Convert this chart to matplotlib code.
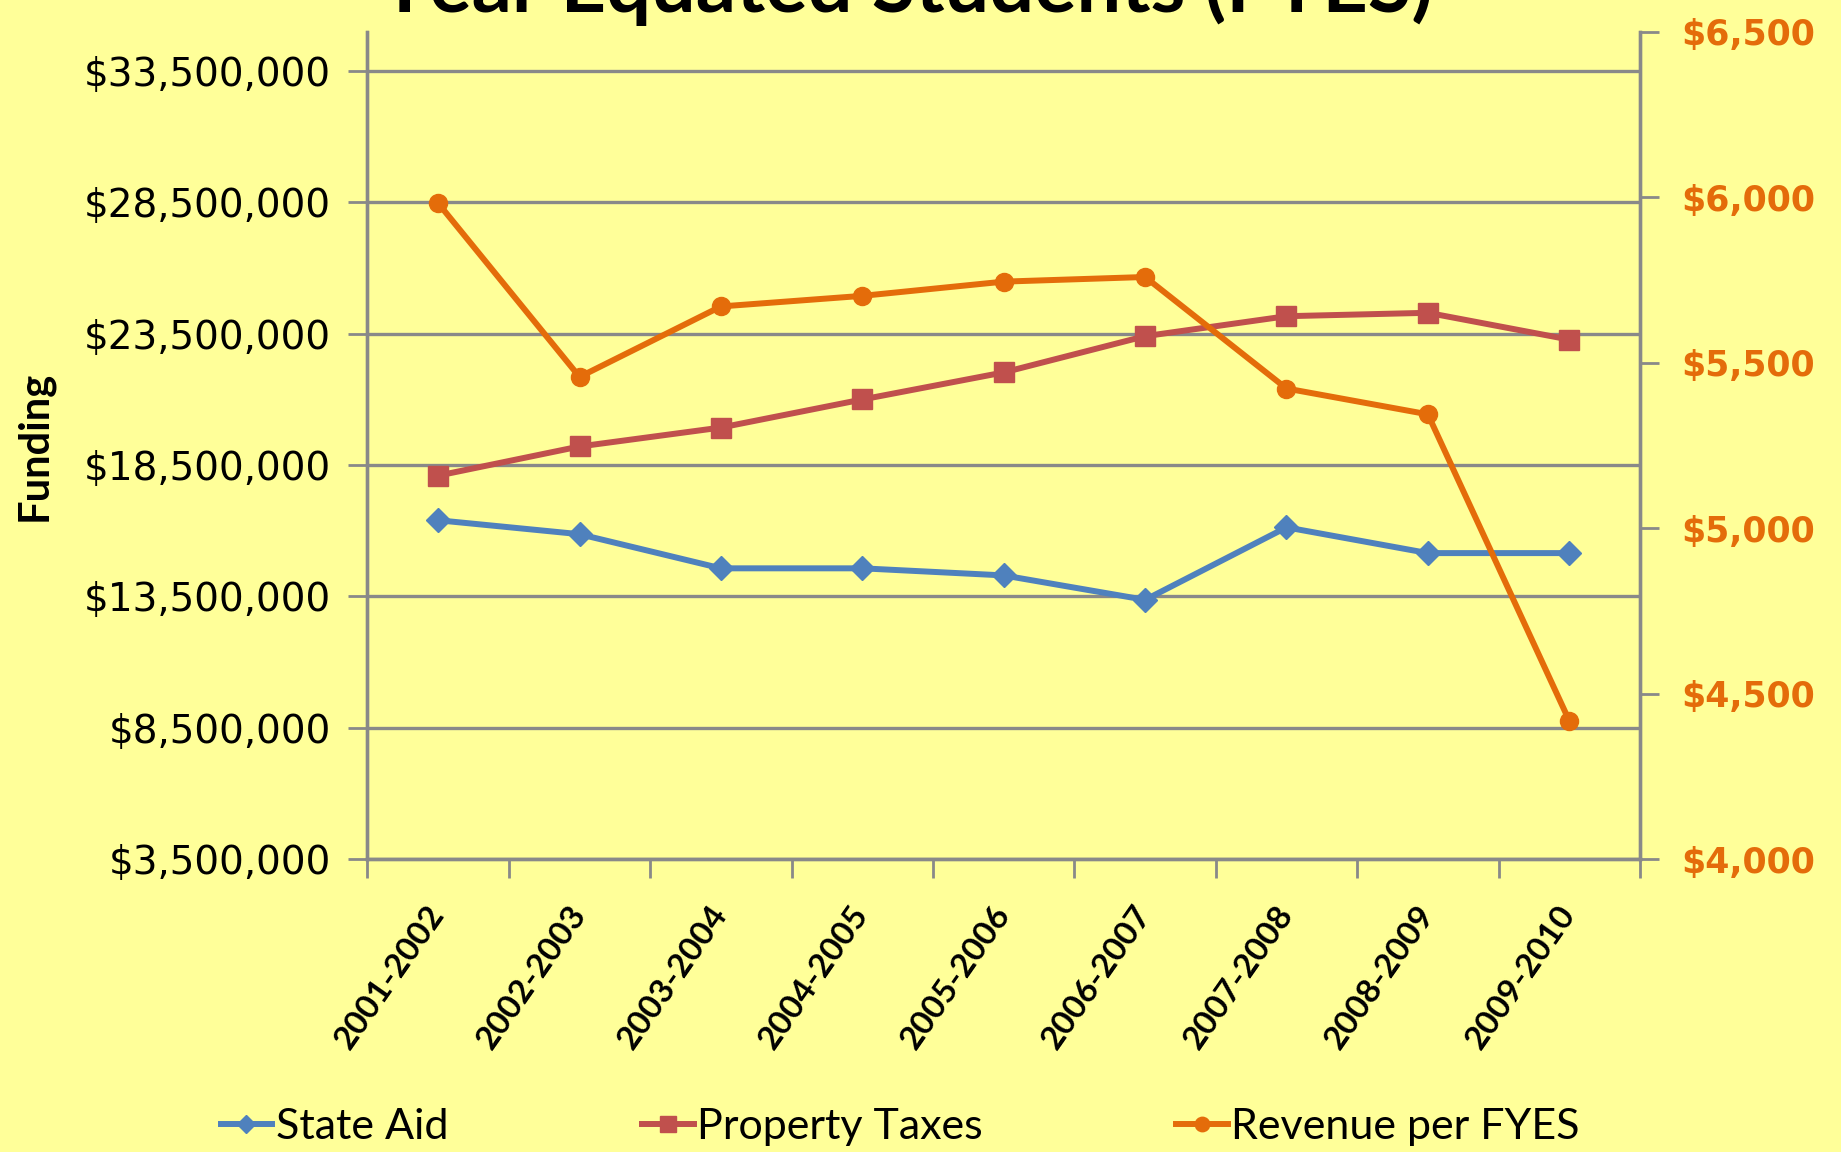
import matplotlib
matplotlib.use("Agg")
import matplotlib.pyplot as plt
import numpy as np

# data
years = ["2001-2002", "2002-2003", "2003-2004", "2004-2005", "2005-2006",
         "2006-2007", "2007-2008", "2008-2009", "2009-2010"]
state_aid = [16.40e6, 15.87e6, 14.57e6, 14.57e6, 14.30e6, 13.37e6, 16.13e6, 15.15e6, 15.15e6]
property_taxes = [18.10e6, 19.21e6, 19.93e6, 21.00e6, 22.03e6, 23.41e6, 24.17e6, 24.30e6, 23.28e6]
revenue_per_fyes = [5982, 5457, 5670, 5702, 5745, 5759, 5422, 5344, 4418]

left_ticks = [3.5e6, 8.5e6, 13.5e6, 18.5e6, 23.5e6, 28.5e6, 33.5e6]
right_ticks = [4000, 4500, 5000, 5500, 6000, 6500]

bg = "#FFFF99"
grid_col = "#898989"
blue = "#4F81BD"
red = "#C0504D"
orange = "#E46C0A"

fig = plt.figure(figsize=(18.41, 11.52), dpi=100, facecolor=bg)
ax = fig.add_axes([0.1996, 0.2543, 0.6912, 0.7181])
ax.set_facecolor(bg)
ax2 = ax.twinx()

x = np.arange(len(years))

l1, = ax.plot(x, state_aid, color=blue, lw=4.3, marker="D", ms=12, mec=blue, label="State Aid", zorder=3)
l2, = ax.plot(x, property_taxes, color=red, lw=4.3, marker="s", ms=14, mec=red, label="Property Taxes", zorder=3)
l3, = ax2.plot(x, revenue_per_fyes, color=orange, lw=4.3, marker="o", ms=13, mec=orange, label="Revenue per FYES", zorder=3)

ax.set_ylim(3.5e6, 35e6)
ax.set_yticks(left_ticks)
ax.set_yticklabels(["${:,.0f}".format(v) for v in left_ticks], fontsize=28, family="DejaVu Sans")
ax.yaxis.grid(True, color=grid_col, lw=2.4)
ax.set_axisbelow(True)

ax2.set_ylim(4000, 6500)
ax2.set_yticks(right_ticks)
ax2.set_yticklabels(["${:,.0f}".format(v) for v in right_ticks], fontsize=25,
                    family="DejaVu Sans", weight="bold", color=orange)

ax.set_xlim(-0.5, len(years) - 0.5)
ax.set_xticks(np.arange(-0.5, len(years)), [""] * (len(years) + 1))
ax.set_xticks(x, minor=True)
ax.set_xticklabels(years, minor=True, rotation=55, ha="right", va="center", rotation_mode="anchor",
                   fontsize=24, family="Lato", weight="bold")
ax.tick_params(axis="x", which="minor", length=0, pad=36)
ax.tick_params(axis="x", which="major", length=14, width=2, color=grid_col, direction="out")
ax.tick_params(axis="y", length=14, width=2, color=grid_col, pad=12)
ax2.tick_params(axis="y", length=14, width=2, color=grid_col, pad=16)

for a in (ax, ax2):
    for s in a.spines.values():
        s.set_color(grid_col)
        s.set_linewidth(2.4)
    a.spines["top"].set_visible(False)

ax.set_ylabel("Funding", fontsize=30, weight="bold", family="Lato")
ax.yaxis.set_label_coords(-0.247, 0.5)

fig.text(0.4923, 0.9896, "Year Equated Students (FYES)", ha="center", va="baseline",
         fontsize=57, weight="bold", family="Lato")

fig.legend(handles=[l1, l2, l3], loc="center", bbox_to_anchor=(0.489, 0.022), ncol=3,
           frameon=False, prop={"family": "Lato", "size": 31}, handlelength=1.2,
           handletextpad=0.08, columnspacing=4.5, markerscale=0.8)

fig.savefig("out.png", dpi=100, facecolor=bg)
